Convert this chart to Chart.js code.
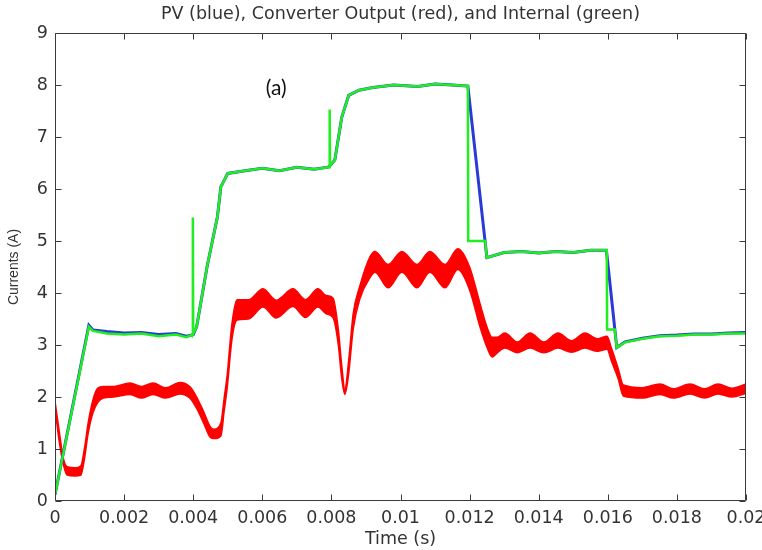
<!DOCTYPE html>
<html>
<head>
<meta charset="utf-8">
<script src="https://cdn.jsdelivr.net/npm/chart.js@4.4.1/dist/chart.umd.min.js"></script>
<style>
html,body{margin:0;padding:0;background:#ffffff;}
#wrap{width:762px;height:550px;position:relative;}
</style>
</head>
<body>
<div id="wrap"><canvas id="c" width="762" height="550"></canvas></div>
<script>
// ---- data ----
const chartTitle = "PV (blue), Converter Output (red), and Internal (green)";
const xAxisTitle = "Time (s)";
const yAxisTitle = "Currents (A)";
const panelLabel = "(a)";
const panelLabelTime = 0.0064;
const panelLabelCurrent = 7.94;

const xTicks = [0, 0.002, 0.004, 0.006, 0.008, 0.01, 0.012, 0.014, 0.016, 0.018, 0.02];
const yTicks = [0, 1, 2, 3, 4, 5, 6, 7, 8, 9];

// Converter output (red) – ripple envelope: upper and lower edge
const redTime = [0, 0.00012, 0.00025, 0.00035, 0.00058, 0.00075, 0.00085, 0.00096, 0.0011, 0.00124,
  0.0014, 0.0017, 0.00217, 0.0025, 0.00284, 0.0032, 0.00362, 0.0039, 0.0041, 0.0043,
  0.0045, 0.0046, 0.0048, 0.0049, 0.00498, 0.00512, 0.00527, 0.0056, 0.00602, 0.0064,
  0.00689, 0.00725, 0.00761, 0.00785, 0.00805, 0.0082, 0.0083, 0.00839, 0.0085, 0.00863,
  0.00883, 0.00912, 0.00926, 0.00964, 0.01004, 0.01048, 0.01085, 0.01129, 0.01166, 0.012,
  0.0123, 0.0125, 0.01265, 0.0128, 0.01302, 0.01338, 0.01375, 0.01415, 0.01456, 0.01495,
  0.01534, 0.0157, 0.01598, 0.0161, 0.0163, 0.01645, 0.017, 0.01751, 0.0179, 0.01838,
  0.0188, 0.01919, 0.0196, 0.02];
const redUpper = [1.92, 1.35, 0.80, 0.66, 0.64, 0.68, 1.00, 1.50, 1.95, 2.17,
  2.20, 2.20, 2.27, 2.20, 2.27, 2.18, 2.28, 2.20, 2.00, 1.72,
  1.42, 1.38, 1.50, 2.00, 2.40, 3.40, 3.87, 3.87, 4.08, 3.86,
  4.08, 3.87, 4.08, 3.95, 3.90, 3.30, 2.60, 2.15, 2.70, 3.60,
  4.15, 4.70, 4.80, 4.55, 4.80, 4.55, 4.80, 4.55, 4.85, 4.50,
  3.80, 3.35, 3.15, 3.15, 3.23, 3.06, 3.23, 3.06, 3.23, 3.08,
  3.23, 3.12, 3.17, 2.95, 2.55, 2.23, 2.18, 2.25, 2.16, 2.25,
  2.16, 2.25, 2.17, 2.25];
const redLower = [1.80, 1.15, 0.68, 0.50, 0.48, 0.50, 0.80, 1.30, 1.70, 1.90,
  1.98, 2.00, 2.05, 1.98, 2.05, 1.98, 2.06, 1.98, 1.78, 1.50,
  1.22, 1.20, 1.25, 1.75, 2.15, 3.10, 3.48, 3.50, 3.73, 3.52,
  3.74, 3.53, 3.73, 3.60, 3.52, 3.00, 2.35, 2.05, 2.45, 3.30,
  3.90, 4.30, 4.40, 4.10, 4.40, 4.10, 4.40, 4.10, 4.45, 4.06,
  3.35, 2.96, 2.77, 2.85, 2.94, 2.85, 2.94, 2.85, 2.94, 2.86,
  2.94, 2.88, 2.92, 2.70, 2.35, 2.02, 1.98, 2.05, 1.98, 2.06,
  1.98, 2.06, 2.00, 2.07];

// Internal (green)
const greenTime = [0, 0.00098, 0.0011, 0.0015, 0.002, 0.0025, 0.003, 0.0035, 0.0038, 0.00398,
  0.00399, 0.004, 0.0041, 0.0044, 0.0047, 0.0048, 0.005, 0.0055, 0.006, 0.0065,
  0.007, 0.0075, 0.0079, 0.00794, 0.00795, 0.00796, 0.0081, 0.0083, 0.0085, 0.0088,
  0.0092, 0.0098, 0.0105, 0.011, 0.0115, 0.01195, 0.01196, 0.01245, 0.0125, 0.013,
  0.0135, 0.014, 0.0145, 0.015, 0.0155, 0.01597, 0.01598, 0.0162, 0.01626, 0.0165,
  0.017, 0.0175, 0.018, 0.0185, 0.019, 0.0195, 0.02];
const greenCurrent = [0.12, 3.35, 3.27, 3.22, 3.20, 3.22, 3.17, 3.20, 3.15, 3.20,
  5.45, 3.22, 3.35, 4.50, 5.46, 6.04, 6.30, 6.35, 6.40, 6.35,
  6.42, 6.38, 6.42, 6.42, 7.53, 6.45, 6.56, 7.38, 7.80, 7.90,
  7.95, 8.00, 7.97, 8.02, 8.00, 7.98, 5.00, 5.00, 4.68, 4.78,
  4.80, 4.77, 4.80, 4.78, 4.82, 4.82, 3.30, 3.30, 2.95, 3.05,
  3.12, 3.17, 3.18, 3.20, 3.20, 3.22, 3.22];

// PV (blue)
const blueTime = [0, 0.00098, 0.0011, 0.0015, 0.002, 0.0025, 0.003, 0.0035, 0.0038, 0.004,
  0.0041, 0.0044, 0.0047, 0.0048, 0.005, 0.0055, 0.006, 0.0065, 0.007, 0.0075,
  0.0079, 0.00796, 0.0081, 0.0083, 0.0085, 0.0088, 0.0092, 0.0098, 0.0105, 0.011,
  0.0115, 0.01195, 0.0125, 0.013, 0.0135, 0.014, 0.0145, 0.015, 0.0155, 0.01596,
  0.01626, 0.0165, 0.017, 0.0175, 0.018, 0.0185, 0.019, 0.0195, 0.02];
const blueCurrent = [0.12, 3.38, 3.29, 3.26, 3.23, 3.24, 3.20, 3.22, 3.17, 3.20,
  3.35, 4.50, 5.46, 6.04, 6.30, 6.35, 6.40, 6.35, 6.42, 6.38,
  6.42, 6.45, 6.56, 7.38, 7.80, 7.90, 7.95, 8.00, 7.97, 8.02,
  8.00, 7.98, 4.68, 4.78, 4.80, 4.77, 4.80, 4.78, 4.82, 4.82,
  2.95, 3.06, 3.13, 3.18, 3.19, 3.21, 3.21, 3.23, 3.24];

// ---- build chart ----
const pts = (xs, ys) => xs.map((t, i) => ({ x: t, y: ys[i] }));
const AXIS_COLOR = '#3a3a3a';
const TEXT_COLOR = '#333333';
const FONT = "'DejaVu Sans', 'Liberation Sans', sans-serif";

const boxAndTicks = {
  id: 'boxAndTicks',
  afterDraw(chart) {
    const { ctx, chartArea } = chart;
    const xs = chart.scales.x, ys = chart.scales.y;
    const L = Math.round(chartArea.left) + 0.5, R = Math.round(chartArea.right) - 0.5;
    const T = Math.round(chartArea.top) + 0.5, B = Math.round(chartArea.bottom) - 0.5;
    const len = 6;
    ctx.save();
    ctx.strokeStyle = AXIS_COLOR;
    ctx.lineWidth = 1;
    ctx.beginPath();
    ctx.rect(L, T, R - L, B - T);
    xTicks.forEach(v => {
      const px = Math.round(xs.getPixelForValue(v)) + 0.5;
      ctx.moveTo(px, B); ctx.lineTo(px, B - len);
      ctx.moveTo(px, T); ctx.lineTo(px, T + len);
    });
    yTicks.forEach(v => {
      const py = Math.round(ys.getPixelForValue(v)) + 0.5;
      ctx.moveTo(L, py); ctx.lineTo(L + len, py);
      ctx.moveTo(R, py); ctx.lineTo(R - len, py);
    });
    ctx.stroke();
    // panel label
    ctx.fillStyle = '#111111';
    ctx.font = "21px Lato, 'Open Sans', sans-serif";
    ctx.textAlign = 'center';
    ctx.textBaseline = 'middle';
    ctx.fillText(panelLabel, xs.getPixelForValue(panelLabelTime), ys.getPixelForValue(panelLabelCurrent));
    ctx.restore();
  }
};

new Chart(document.getElementById('c'), {
  type: 'scatter',
  data: {
    datasets: [
      { label: 'Internal', data: pts(greenTime, greenCurrent), showLine: true, borderColor: '#1fef1f',
        borderWidth: 2.5, pointRadius: 0, tension: 0, fill: false },
      { label: 'PV', data: pts(blueTime, blueCurrent), showLine: true, borderColor: '#2a3ad6',
        borderWidth: 3.0, pointRadius: 0, tension: 0, fill: false },
      { label: 'Converter Output (upper)', data: pts(redTime, redUpper), showLine: true, borderColor: '#ff0000',
        backgroundColor: '#ff0000', borderWidth: 1.5, pointRadius: 0, cubicInterpolationMode: 'monotone', fill: '+1' },
      { label: 'Converter Output (lower)', data: pts(redTime, redLower), showLine: true, borderColor: '#ff0000',
        borderWidth: 1.5, pointRadius: 0, cubicInterpolationMode: 'monotone', fill: false }
    ]
  },
  options: {
    responsive: false,
    animation: false,
    devicePixelRatio: 1,
    layout: { padding: { left: 0, right: 16, top: 0, bottom: 0 } },
    plugins: {
      legend: { display: false },
      tooltip: { enabled: false },
      title: {
        display: true, text: chartTitle, color: TEXT_COLOR, fullSize: false,
        font: { family: FONT, size: 17.5, weight: 'normal' },
        padding: { top: 4, bottom: 8 }
      }
    },
    scales: {
      x: {
        type: 'linear', min: 0, max: 0.02,
        grid: { display: false, drawTicks: false },
        border: { display: false },
        afterBuildTicks: s => { s.ticks = xTicks.map(v => ({ value: v })); },
        afterFit: s => { s.height = 49; s.paddingLeft = 0; s.paddingRight = 0; },
        ticks: {
          color: TEXT_COLOR, font: { family: FONT, size: 17.5 }, padding: 7,
          autoSkip: false, maxRotation: 0, minRotation: 0,
          callback: v => String(v)
        },
        title: { display: true, text: xAxisTitle, color: TEXT_COLOR,
          font: { family: FONT, size: 17.5 }, padding: { top: 0, bottom: 0 } }
      },
      y: {
        type: 'linear', min: 0, max: 9,
        grid: { display: false, drawTicks: false },
        border: { display: false },
        afterBuildTicks: s => { s.ticks = yTicks.map(v => ({ value: v })); },
        afterFit: s => { s.width = 55; s.paddingTop = 0; s.paddingBottom = 0; },
        ticks: {
          color: TEXT_COLOR, font: { family: FONT, size: 17.5 }, padding: 7,
          callback: v => String(v)
        },
        title: { display: true, text: yAxisTitle, color: TEXT_COLOR,
          font: { family: "'Liberation Sans', Arial, sans-serif", size: 14 }, padding: { top: 6, bottom: 0 } }
      }
    }
  },
  plugins: [boxAndTicks]
});
</script>
</body>
</html>
